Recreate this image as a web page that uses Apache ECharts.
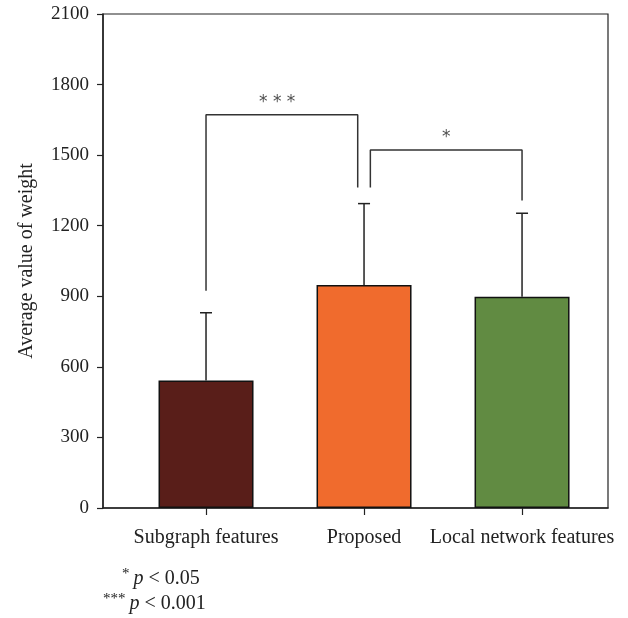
<!DOCTYPE html>
<html><head><meta charset="utf-8">
<script src="https://cdn.jsdelivr.net/npm/echarts@6/dist/echarts.min.js"></script>
</head><body style="margin:0;background:#fff">
<div id="c" style="width:628px;height:618px"></div>
<script>
const categories = ['Subgraph features', 'Proposed', 'Local network features'];
const means = [542, 948, 898];
const errUpper = [830, 1294, 1253];
const barColors = ['#591e19', '#f06b2d', '#618b42'];
const yMin = 0, yMax = 2100, yStep = 300;
const bracket1 = [[0, 924], [0, 1672], [0.96, 1672], [0.96, 1362]];
const bracket2 = [[1.04, 1362], [1.04, 1522], [2, 1522], [2, 1307]];
const sigLabels = ['* * *', '*'];
const sigPos = [[0.45, 1672], [1.52, 1522]];

const FONT = 'Liberation Serif';
const chart = echarts.init(document.getElementById('c'), null, {renderer: 'canvas'});
const rich = {
  s: {fontFamily: FONT, fontSize: 15, verticalAlign: 'top', padding: [0, 0, 9, 0], fill: '#222'},
  p: {fontFamily: FONT, fontSize: 20, fontStyle: 'italic', padding: [0, 0, 0, 4], fill: '#222'},
  t: {fontFamily: FONT, fontSize: 20, fill: '#222'}
};
chart.setOption({
  animation: false,
  backgroundColor: '#fff',
  grid: {left: 103, right: 20, top: 14, bottom: 110, show: true, borderColor: '#222', borderWidth: 1.2, backgroundColor: 'transparent'},
  xAxis: {
    type: 'value', min: -0.652, max: 2.544,
    splitLine: {show: false},
    axisLine: {show: true, onZero: false, lineStyle: {color: '#222', width: 1.5}},
    axisTick: {show: true, customValues: [0, 1, 2], length: 7, inside: false, lineStyle: {color: '#222', width: 1.2}},
    axisLabel: {customValues: [0, 1, 2], margin: 20, fontFamily: FONT, fontSize: 20, color: '#222',
      formatter: v => categories[Math.round(v)] || ''}
  },
  yAxis: {
    type: 'value', min: yMin, max: yMax, interval: yStep,
    name: 'Average value of weight', nameLocation: 'middle', nameGap: 66,
    nameTextStyle: {fontFamily: FONT, fontSize: 20, color: '#222'},
    splitLine: {show: false},
    axisLine: {show: true, onZero: false, lineStyle: {color: '#222', width: 1.5}},
    axisTick: {show: true, length: 6, lineStyle: {color: '#222', width: 1.2}},
    axisLabel: {margin: 14, fontFamily: FONT, fontSize: 19, color: '#222', formatter: v => String(v)}
  },
  series: [
    {
      type: 'bar', barWidth: 95,
      data: means.map((v, i) => ({value: [i, v], itemStyle: {color: barColors[i]}})),
      itemStyle: {borderColor: '#111', borderWidth: 1.5},
      z: 2
    },
    {
      type: 'custom', z: 3,
      data: means.map((v, i) => [i, v, errUpper[i]]),
      renderItem: (params, api) => {
        const x = api.value(0);
        const p0 = api.coord([x, api.value(1)]);
        const p1 = api.coord([x, api.value(2)]);
        const w = 6;
        const st = {stroke: '#222', lineWidth: 1.5};
        return {type: 'group', children: [
          {type: 'line', shape: {x1: p0[0], y1: p0[1], x2: p1[0], y2: p1[1]}, style: st},
          {type: 'line', shape: {x1: p1[0] - w, y1: p1[1], x2: p1[0] + w, y2: p1[1]}, style: st}
        ]};
      }
    },
    {type: 'line', data: bracket1, symbol: 'none', lineStyle: {color: '#333', width: 1.5}, z: 4},
    {type: 'line', data: bracket2, symbol: 'none', lineStyle: {color: '#333', width: 1.5}, z: 4},
    {
      type: 'scatter', symbolSize: 0, z: 5,
      data: sigPos.map((p, i) => ({value: p, label: {formatter: sigLabels[i]}})),
      label: {show: true, position: 'top', distance: 4, fontFamily: 'DejaVu Sans', fontSize: 17, color: '#222'}
    }
  ],
  graphic: [
    {type: 'text', left: 122, top: 567, style: {text: '{s|*}{p|p}{t| < 0.05}', rich}},
    {type: 'text', left: 103, top: 592, style: {text: '{s|***}{p|p}{t| < 0.001}', rich}}
  ]
});
</script></body></html>
